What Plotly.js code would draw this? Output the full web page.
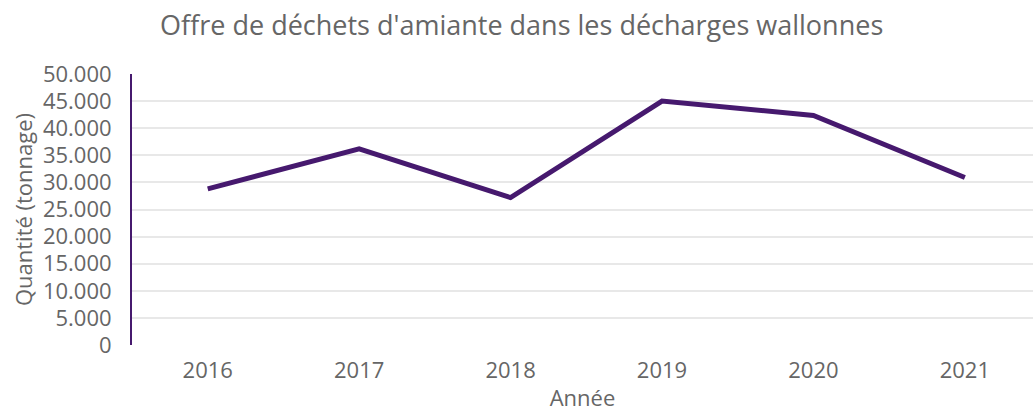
<!DOCTYPE html>
<html>
<head>
<meta charset="utf-8">
<script src="https://cdn.plot.ly/plotly-3.0.1.min.js"></script>
<style>html,body{margin:0;padding:0;background:#fff;}#chart{width:1033px;height:412px;}</style>
</head>
<body>
<div id="chart"></div>
<script>
const years = ['2016', '2017', '2018', '2019', '2020', '2021'];
const tonnage = [28800, 36200, 27200, 45000, 42350, 30900];
const yTicks = [0, 5000, 10000, 15000, 20000, 25000, 30000, 35000, 40000, 45000, 50000];

const FONT = 'Open Sans, sans-serif';
const trace = {
  x: years,
  y: tonnage,
  type: 'scatter',
  mode: 'lines',
  line: {color: '#46196e', width: 5},
  hoverinfo: 'x+y'
};

const layout = {
  width: 1033,
  height: 412,
  margin: {l: 132, r: 0, t: 74, b: 67},
  paper_bgcolor: '#fff',
  plot_bgcolor: '#fff',
  separators: ',.',
  showlegend: false,
  font: {family: FONT, color: '#666'},
  title: {
    text: "Offre de déchets d'amiante dans les décharges wallonnes",
    font: {family: FONT, size: 27, color: '#666'},
    x: 0.505, xanchor: 'center', y: 0.937, yanchor: 'middle'
  },
  xaxis: {
    type: 'category',
    range: [-0.5, 5.45],
    showgrid: false,
    zeroline: false,
    showline: false,
    ticks: '',
    ticklabelstandoff: 10,
    tickfont: {family: FONT, size: 22, color: '#666'},
    title: {
      text: 'Année',
      font: {family: FONT, size: 22, color: '#666'},
      standoff: 13
    }
  },
  yaxis: {
    range: [0, 50000],
    tickvals: yTicks,
    tickformat: ',d',
    showgrid: true,
    gridcolor: '#e8e8e8',
    gridwidth: 2,
    zeroline: false,
    showline: true,
    linecolor: '#46196e',
    linewidth: 2,
    ticks: '',
    ticklabelstandoff: 14,
    tickfont: {family: FONT, size: 22, color: '#666'},
    title: {
      text: 'Quantité (tonnage)',
      font: {family: FONT, size: 22, color: '#666'},
      standoff: 4
    }
  }
};

Plotly.newPlot('chart', [trace], layout, {displayModeBar: false, staticPlot: true});
</script>
</body>
</html>
